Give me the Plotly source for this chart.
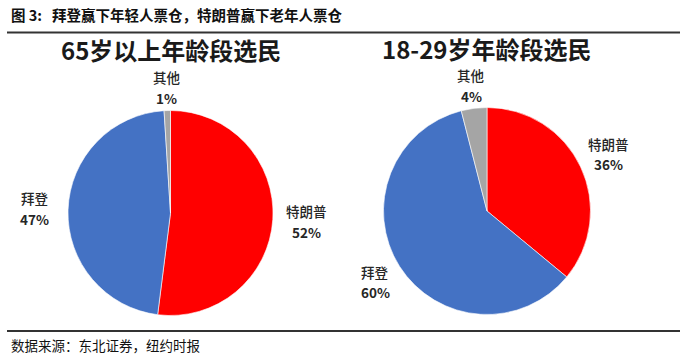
import math
import plotly.graph_objects as go

# ---- data ----
labels = ["特朗普", "拜登", "其他"]
old_values = [52, 47, 1]      # 65岁以上
young_values = [36, 60, 4]    # 18-29岁
colors = ["#FF0000", "#4472C4", "#A5A5A5"]
titles = ["65岁以上年龄段选民", "18-29岁年龄段选民"]
header = "图 3:   拜登赢下年轻人票仓，特朗普赢下老年人票仓"
source = "数据来源：东北证券，纽约时报"

W, H = 686, 362
FONT = "Noto Sans CJK SC"

# pie geometry in pixels (center x, center y from top, radius)
pies = [
    dict(values=old_values, cx=170.5, cy=213, r=102.5, title=titles[0], ty=50),
    dict(values=young_values, cx=487, cy=211, r=103.5, title=titles[1], ty=48),
]

# label box half-extents (px) and gap from pie edge
BOX_A, BOX_B, GAP = 30.0, 19.5, 3.5

fig = go.Figure()
annotations = []
for p in pies:
    cx, cy, r = p["cx"], p["cy"], p["r"]
    fig.add_trace(go.Pie(
        labels=labels, values=p["values"], sort=False, direction="clockwise",
        rotation=0, textinfo="none", hoverinfo="label+percent",
        marker=dict(colors=colors, line=dict(color="white", width=0.6)),
        domain=dict(x=[(cx - r) / W, (cx + r) / W],
                    y=[(H - cy - r) / H, (H - cy + r) / H]),
        showlegend=False,
    ))
    total = sum(p["values"])
    cum = 0
    for lab, v in zip(labels, p["values"]):
        mid = (cum + v / 2) / total * 2 * math.pi
        cum += v
        sx, sy = math.sin(mid), math.cos(mid)
        ext = 1.0 / math.sqrt((sx / BOX_A) ** 2 + (sy / BOX_B) ** 2)
        d = r + GAP + ext
        lx = cx + d * sx
        ly = cy - d * sy
        annotations.append(dict(x=lx / W, y=(H - ly + 10.25) / H, xref="paper", yref="paper",
                                text=lab, showarrow=False,
                                font=dict(family=FONT, size=13.5, color="#262626", weight=500),
                                xanchor="center", yanchor="middle"))
        annotations.append(dict(x=lx / W, y=(H - ly - 10.25) / H, xref="paper", yref="paper",
                                text="<b>%d%%</b>" % round(v / total * 100), showarrow=False,
                                font=dict(family=FONT, size=13.5, color="#262626"),
                                xanchor="center", yanchor="middle"))
    annotations.append(dict(x=cx / W, y=(H - p["ty"]) / H, xref="paper", yref="paper",
                            text="<b>%s</b>" % p["title"], showarrow=False,
                            font=dict(family=FONT, size=24, color="#1a1a1a"),
                            xanchor="center", yanchor="middle"))

annotations.append(dict(x=9 / W, y=(H - 15) / H, xref="paper", yref="paper",
                        text="<b>%s</b>" % header, showarrow=False,
                        font=dict(family=FONT, size=14.5, color="#111111"),
                        xanchor="left", yanchor="middle"))
annotations.append(dict(x=9 / W, y=(H - 345) / H, xref="paper", yref="paper",
                        text=source, showarrow=False,
                        font=dict(family=FONT, size=13.5, color="#111111"),
                        xanchor="left", yanchor="middle"))

shapes = [
    dict(type="line", xref="paper", yref="paper", x0=7 / W, x1=680 / W,
         y0=(H - 32.5) / H, y1=(H - 32.5) / H, line=dict(color="#333333", width=2)),
    dict(type="line", xref="paper", yref="paper", x0=7 / W, x1=680 / W,
         y0=(H - 331) / H, y1=(H - 331) / H, line=dict(color="#333333", width=2)),
]

fig.update_layout(
    width=W, height=H, margin=dict(l=0, r=0, t=0, b=0),
    paper_bgcolor="white", plot_bgcolor="white",
    annotations=annotations, shapes=shapes,
)

fig.write_html("out.html", config={"displayModeBar": False},
               post_script="document.body.style.margin='0px';document.body.style.overflow='hidden';")
